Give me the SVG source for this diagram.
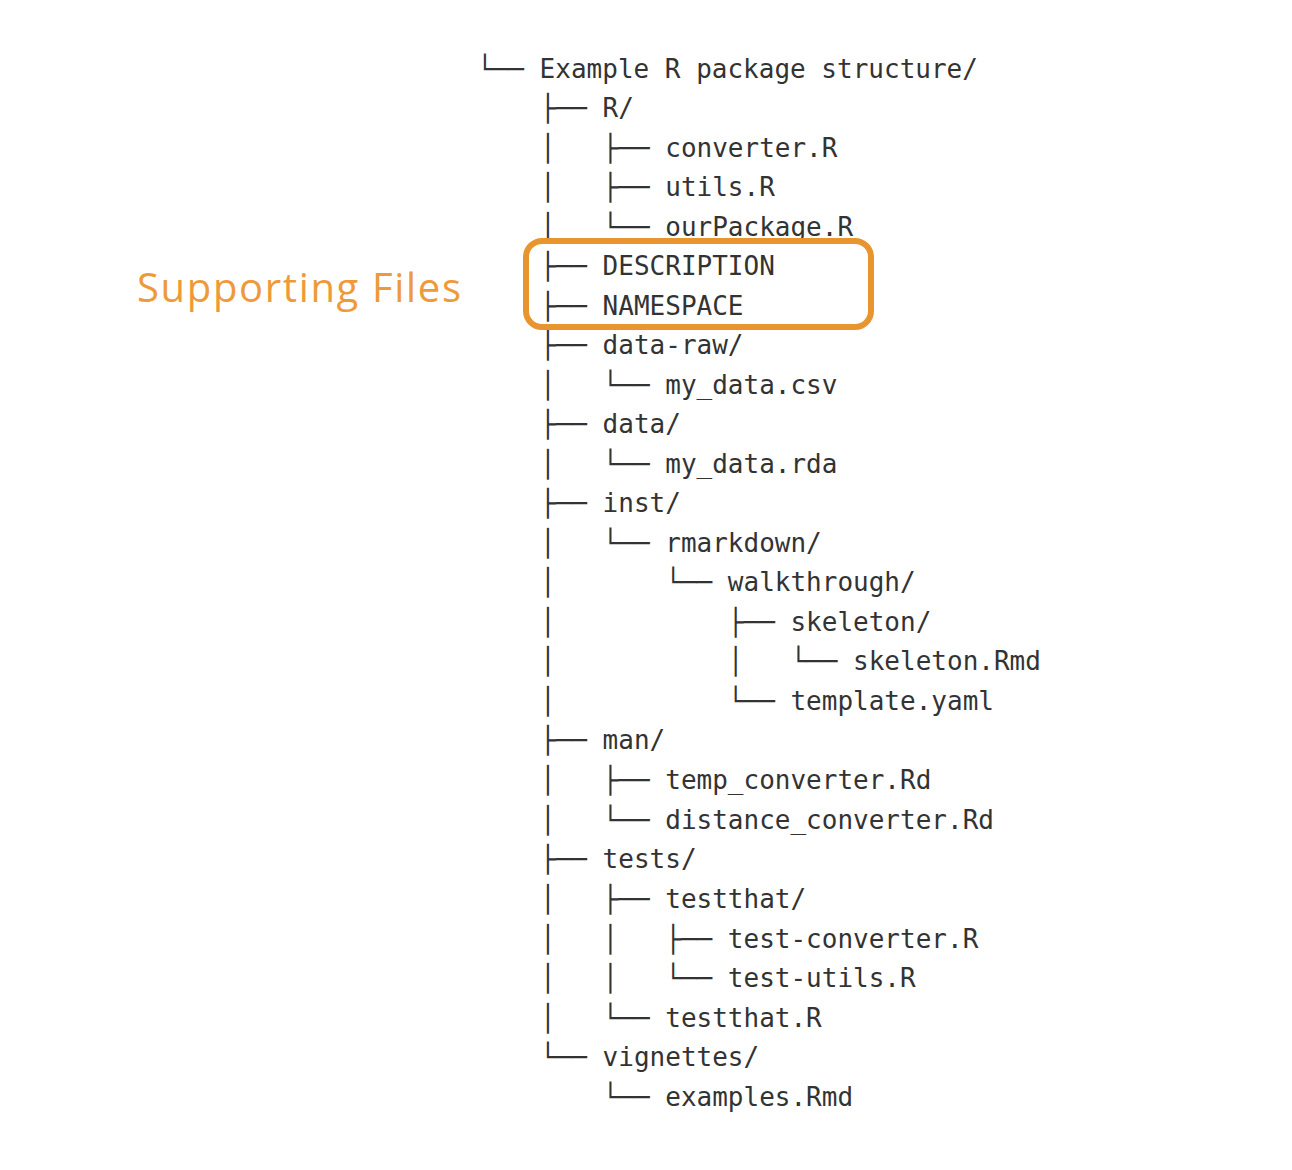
<svg xmlns="http://www.w3.org/2000/svg" width="1292" height="1170" viewBox="0 0 1292 1170">
<style>
.t{font-family:"DejaVu Sans Mono","Liberation Mono",monospace;font-size:26px;fill:#333;white-space:pre}
.lbl{font-family:"Open Sans","Noto Sans",sans-serif;font-size:40px;fill:#EE9A3A}
</style>
<rect width="1292" height="1170" fill="#fff"/>
<g id="tree" xml:space="preserve">
<text class="t" x="477" y="78">└── Example R package structure/</text>
<text class="t" x="540" y="117">├── R/</text>
<text class="t" x="540" y="157">│   ├── converter.R</text>
<text class="t" x="540" y="196">│   ├── utils.R</text>
<text class="t" x="540" y="236">│   └── ourPackage.R</text>
<text class="t" x="540" y="275">├── DESCRIPTION</text>
<text class="t" x="540" y="315">├── NAMESPACE</text>
<text class="t" x="540" y="354">├── data-raw/</text>
<text class="t" x="540" y="394">│   └── my_data.csv</text>
<text class="t" x="540" y="433">├── data/</text>
<text class="t" x="540" y="473">│   └── my_data.rda</text>
<text class="t" x="540" y="512">├── inst/</text>
<text class="t" x="540" y="552">│   └── rmarkdown/</text>
<text class="t" x="540" y="591">│       └── walkthrough/</text>
<text class="t" x="540" y="631">│           ├── skeleton/</text>
<text class="t" x="540" y="670">│           │   └── skeleton.Rmd</text>
<text class="t" x="540" y="710">│           └── template.yaml</text>
<text class="t" x="540" y="749">├── man/</text>
<text class="t" x="540" y="789">│   ├── temp_converter.Rd</text>
<text class="t" x="540" y="829">│   └── distance_converter.Rd</text>
<text class="t" x="540" y="868">├── tests/</text>
<text class="t" x="540" y="908">│   ├── testthat/</text>
<text class="t" x="540" y="948">│   │   ├── test-converter.R</text>
<text class="t" x="540" y="987">│   │   └── test-utils.R</text>
<text class="t" x="540" y="1027">│   └── testthat.R</text>
<text class="t" x="540" y="1066">└── vignettes/</text>
<text class="t" x="540" y="1106">    └── examples.Rmd</text>
</g>
<g id="highlight">
<rect x="526" y="241" width="345" height="86" rx="16" fill="none" stroke="#E8952F" stroke-width="6"/>
<text class="lbl" x="137" y="302" textLength="324">Supporting Files</text>
</g>
</svg>
